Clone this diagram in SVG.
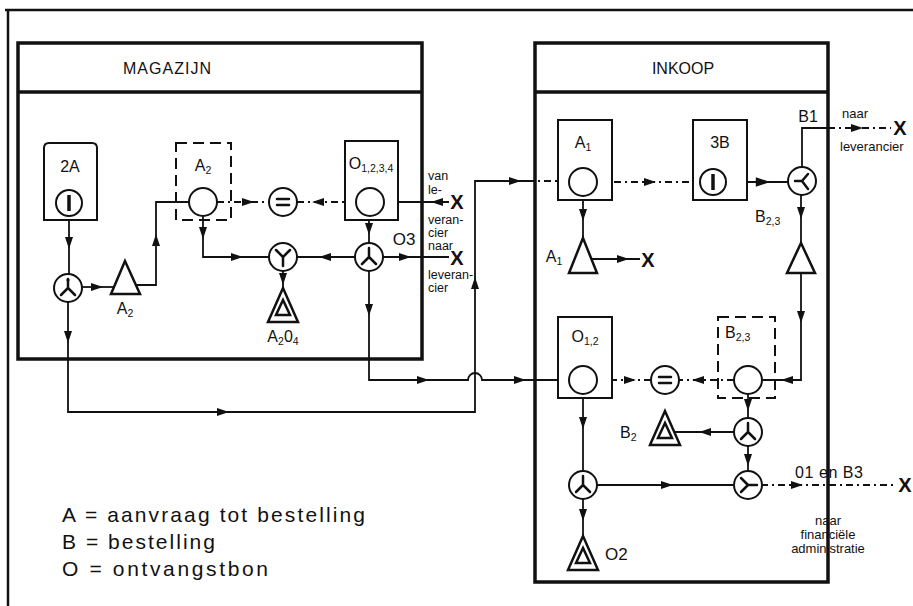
<svg xmlns="http://www.w3.org/2000/svg" width="913" height="606" viewBox="0 0 913 606">
<style>
text{font-family:"Liberation Sans",Arial,Helvetica,sans-serif;fill:#111}
.lbl{font-size:16px}
.sm{font-size:12.5px}
.sub{font-size:10.5px}
.main{fill:none;stroke:#111;stroke-width:3.5}
.box{fill:#fff;stroke:#111;stroke-width:2}
.dbox{fill:none;stroke:#111;stroke-width:2;stroke-dasharray:11,6}
.c{fill:#fff;stroke:#111;stroke-width:2}
.sym{fill:none;stroke:#111;stroke-width:2.5;stroke-linecap:round;stroke-linejoin:round}
.tri{fill:#fff;stroke:#111;stroke-width:2.5;stroke-linejoin:miter}
.ln{fill:none;stroke:#111;stroke-width:1.8}
.dl{fill:none;stroke:#111;stroke-width:1.8;stroke-dasharray:7,4,2,4}
.ah{fill:#111}
.x{font-size:20px;font-weight:bold}
.leg{font-size:21px}
</style>
<defs>
<g id="split"><circle r="14" class="c"/><path class="sym" d="M0,-9V0L-7,7M0,0L7,7"/></g>
<g id="merge"><circle r="14" class="c"/><path class="sym" d="M-7,-7L0,0L7,-7M0,0V9"/></g>
<g id="icirc"><circle r="13" class="c"/><path d="M0,-8V8" stroke="#111" stroke-width="3.5"/></g>
<g id="eq"><circle r="14" class="c"/><path class="sym" d="M-6,-3H6M-6,3H6"/></g>
<circle id="oc" r="14" class="c"/>
<g id="dtri"><polygon class="tri" points="0,-17 -15,17 15,17"/><polygon class="tri" points="0,-5 -7,10 7,10"/></g>
<path id="ah" class="ah" d="M6,0L-6,-4L-6,4Z"/>
</defs>
<rect x="0" y="0" width="913" height="606" fill="#fff"/>

<g id="frame">
<path d="M5,10H913M8,10V606" fill="none" stroke="#111" stroke-width="2.5"/>
</g>

<g id="magazijn">
<rect class="main" x="18" y="43" width="404" height="316"/>
<path class="main" d="M18,92H422"/>
<text x="167" y="74" font-size="16" text-anchor="middle" textLength="88">MAGAZIJN</text>
</g>

<g id="inkoop">
<rect class="main" x="535" y="43" width="293" height="539"/>
<path class="main" d="M535,92H828"/>
<text x="683" y="74" font-size="16" text-anchor="middle">INKOOP</text>
</g>

<g id="connectors">
<path class="ln" d="M69,217V274"/><use href="#ah" transform="translate(69,243) rotate(90)"/>
<path class="ln" d="M82,287H113"/><use href="#ah" transform="translate(97,287)"/>
<path class="ln" d="M136,285H156V202H189"/><use href="#ah" transform="translate(156,240) rotate(-90)"/>
<path class="dl" d="M217,202H269"/><use href="#ah" transform="translate(248,202)"/>
<path class="dl" d="M297,202H345"/><path class="ln" d="M345,202H356"/><use href="#ah" transform="translate(318,202) rotate(180)"/>
<path class="ln" d="M384,202H449"/><use href="#ah" transform="translate(437,202) rotate(180)"/>
<path class="ln" d="M369,216V243"/><use href="#ah" transform="translate(369,229) rotate(90)"/>
<path class="ln" d="M383,257H449"/><use href="#ah" transform="translate(405,257)"/>
<path class="ln" d="M355,257H297"/><use href="#ah" transform="translate(325,257) rotate(180)"/>
<path class="ln" d="M203,216V257H269"/><use href="#ah" transform="translate(203,233) rotate(90)"/><use href="#ah" transform="translate(237,257)"/>
<path class="ln" d="M283,271V288"/><use href="#ah" transform="translate(283,279) rotate(90)"/>
<path class="ln" d="M369,271V380H468A7,7 0 0 1 482,380H569"/><use href="#ah" transform="translate(369,310) rotate(90)"/><use href="#ah" transform="translate(423,380)"/><use href="#ah" transform="translate(520,380)"/>
<path class="ln" d="M68,302V412H475V181H527"/><path class="dl" d="M527,181H569"/><use href="#ah" transform="translate(68,337) rotate(90)"/><use href="#ah" transform="translate(223,412)"/><use href="#ah" transform="translate(475,283) rotate(-90)"/><use href="#ah" transform="translate(515,181)"/>
<path class="dl" d="M597,182H699"/><use href="#ah" transform="translate(650,182)"/>
<path class="ln" d="M727,182H788" stroke-width="2.5"/><use href="#ah" transform="translate(763,182) scale(1.2)"/>
<path class="ln" d="M802,167V128H828"/><path class="dl" d="M828,128H891"/><use href="#ah" transform="translate(857,128)"/>
<path class="ln" d="M801,195V243"/><use href="#ah" transform="translate(801,213) rotate(90)"/>
<path class="ln" d="M801,273V380H762"/><use href="#ah" transform="translate(801,317) rotate(90)"/><use href="#ah" transform="translate(787,380) rotate(180)"/>
<path class="dl" d="M734,380H679"/><use href="#ah" transform="translate(698,380) rotate(180)"/>
<path class="dl" d="M651,380H597"/><use href="#ah" transform="translate(630,380)"/>
<path class="ln" d="M583,394V471"/><use href="#ah" transform="translate(583,423) rotate(90)"/>
<path class="ln" d="M597,485H733"/><use href="#ah" transform="translate(667,485)"/>
<path class="ln" d="M583,499V537"/><use href="#ah" transform="translate(583,515) rotate(90)"/>
<path class="ln" d="M748,394V418"/><use href="#ah" transform="translate(748,405) rotate(90)"/>
<path class="ln" d="M734,432H674"/><use href="#ah" transform="translate(705,432) rotate(180)"/>
<path class="ln" d="M748,446V471"/><use href="#ah" transform="translate(748,460) rotate(90)"/>
<path class="dl" d="M761,485H896" stroke-width="2.2"/><use href="#ah" transform="translate(797,485)"/>
<path class="ln" d="M583,196V238"/><use href="#ah" transform="translate(583,215) rotate(90)"/>
<path class="ln" d="M591,259H640"/><use href="#ah" transform="translate(623,259)"/>
</g>

<g id="n-2A">
<path class="box" d="M44,220V148Q44,143 49,143H92Q97,143 97,148V220Z"/>
<text class="lbl" x="70" y="172" text-anchor="middle">2A</text>
<use href="#icirc" transform="translate(69,203)"/>
</g>
<g id="n-split1"><use href="#split" transform="translate(68,288)"/><circle cx="68" cy="280" r="1.6" fill="#111"/></g>
<g id="n-triA2">
<polygon class="tri" points="125,261 111,294 140,294"/>
<text class="lbl" x="125" y="314" text-anchor="middle">A<tspan class="sub" dy="3">2</tspan></text>
</g>
<g id="n-A2">
<rect class="dbox" x="176" y="143" width="55" height="77"/>
<text class="lbl" x="203" y="171" text-anchor="middle">A<tspan class="sub" dy="3">2</tspan></text>
<use href="#oc" transform="translate(203,202)"/>
</g>
<g id="n-eq1"><use href="#eq" transform="translate(283,202)"/></g>
<g id="n-O1234">
<rect class="box" x="345" y="141" width="53" height="79"/>
<text class="lbl" x="371" y="169" text-anchor="middle">O<tspan class="sub" dy="3">1,2,3,4</tspan></text>
<use href="#oc" transform="translate(370,202)"/>
</g>
<g id="n-split2"><use href="#split" transform="translate(369,257)"/></g>
<g id="n-merge1"><use href="#merge" transform="translate(283,257)"/></g>
<g id="n-A2O4">
<use href="#dtri" transform="translate(283,305)"/>
<text class="lbl" x="283" y="342" text-anchor="middle">A<tspan class="sub" dy="3">2</tspan><tspan dy="-3">0</tspan><tspan class="sub" dy="3">4</tspan></text>
</g>
<g id="n-X-van">
<text class="x" x="457" y="209" text-anchor="middle">X</text>
<text class="sm" x="428" y="180">van</text>
<text class="sm" x="428" y="194">le-</text>
<text class="sm" x="428" y="224">veran-</text>
<text class="sm" x="428" y="237">cier</text>
</g>
<g id="n-X-naar">
<text class="x" x="457" y="265" text-anchor="middle">X</text>
<text font-size="17" x="404" y="245" text-anchor="middle">O3</text>
<text class="sm" x="428" y="250">naar</text>
<text class="sm" x="428" y="279">leveran-</text>
<text class="sm" x="428" y="292">cier</text>
</g>

<g id="n-A1">
<rect class="box" x="558" y="120" width="54" height="80"/>
<text class="lbl" x="583" y="148" text-anchor="middle">A<tspan class="sub" dy="3">1</tspan></text>
<use href="#oc" transform="translate(583,182)"/>
</g>
<g id="n-3B">
<rect class="box" x="693" y="120" width="54" height="80"/>
<text class="lbl" x="720" y="148" text-anchor="middle">3B</text>
<use href="#icirc" transform="translate(713,182)"/>
</g>
<g id="n-splitB1">
<circle class="c" cx="802" cy="181" r="14"/>
<path class="sym" d="M795,181H802L808,174M802,181L808,189"/>
</g>
<g id="n-X-B1">
<text class="x" x="900" y="135" text-anchor="middle">X</text>
<text class="lbl" x="808" y="122" text-anchor="middle">B1</text>
<text font-size="13" x="842" y="118">naar</text>
<text font-size="13" x="840" y="151">leverancier</text>
</g>
<g id="n-triA1">
<polygon class="tri" points="583,238 569,273 597,273"/>
<text class="lbl" x="554" y="262" text-anchor="middle">A<tspan class="sub" dy="3">1</tspan></text>
</g>
<g id="n-X-A1"><text class="x" x="648" y="267" text-anchor="middle">X</text></g>
<g id="n-triB23">
<polygon class="tri" points="801,243 787,273 815,273"/>
<text class="lbl" x="755" y="222">B<tspan class="sub" dy="3">2,3</tspan></text>
</g>
<g id="n-B23">
<rect class="dbox" x="718" y="317" width="57" height="81"/>
<text class="lbl" x="725" y="338">B<tspan class="sub" dy="3">2,3</tspan></text>
<use href="#oc" transform="translate(748,380)"/>
</g>
<g id="n-eq2"><use href="#eq" transform="translate(665,380)"/></g>
<g id="n-O12">
<rect class="box" x="558" y="317" width="54" height="81"/>
<text class="lbl" x="585" y="342" text-anchor="middle">O<tspan class="sub" dy="3">1,2</tspan></text>
<use href="#oc" transform="translate(583,380)"/>
</g>
<g id="n-split3"><use href="#split" transform="translate(583,485)"/></g>
<g id="n-O2">
<use href="#dtri" transform="translate(583,553)"/>
<text font-size="17" x="605" y="560">O2</text>
</g>
<g id="n-split4"><use href="#split" transform="translate(748,432)"/></g>
<g id="n-B2">
<use href="#dtri" transform="translate(665,428)"/>
<text class="lbl" x="620" y="438">B<tspan class="sub" dy="3">2</tspan></text>
</g>
<g id="n-merge2">
<circle class="c" cx="748" cy="485" r="14"/>
<path class="sym" d="M741,478L748,485L741,492M748,485H757"/>
</g>
<g id="n-X-fin">
<text class="x" x="905" y="492" text-anchor="middle">X</text>
<text font-size="16" x="795" y="478" textLength="68">01 en B3</text>
<text font-size="13" x="828" y="525" text-anchor="middle">naar</text>
<text font-size="13" x="828" y="539" text-anchor="middle">financiële</text>
<text font-size="13" x="828" y="553" text-anchor="middle">administratie</text>
</g>

<g id="legend">
<text class="leg" x="62" y="522" textLength="303" lengthAdjust="spacing">A = aanvraag tot bestelling</text>
<text class="leg" x="62" y="549" textLength="153" lengthAdjust="spacing">B = bestelling</text>
<text class="leg" x="62" y="576" textLength="206" lengthAdjust="spacing">O = ontvangstbon</text>
</g>
</svg>
